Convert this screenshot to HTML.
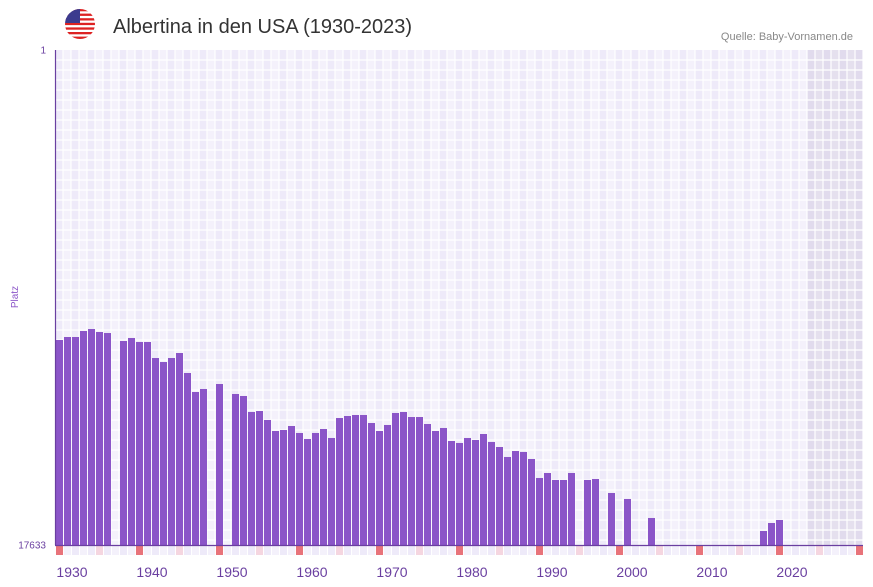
<!DOCTYPE html>
<html><head><meta charset="utf-8"><style>
body{margin:0;background:#fff;font-family:"Liberation Sans",sans-serif;}
svg{display:block}
</style></head><body>
<svg id="c" width="873" height="587">
<g>
<g>
<clipPath id="fc"><circle cx="80" cy="24" r="15"/></clipPath>
<g clip-path="url(#fc)">
<rect x="65" y="9" width="30" height="30" fill="#fff"/>
<rect x="65" y="9" width="30" height="2.3" fill="#d22"/><rect x="65" y="13.6" width="30" height="2.3" fill="#d22"/><rect x="65" y="18.2" width="30" height="2.3" fill="#d22"/><rect x="65" y="22.8" width="30" height="2.3" fill="#d22"/><rect x="65" y="27.4" width="30" height="2.3" fill="#d22"/><rect x="65" y="32" width="30" height="2.3" fill="#d22"/><rect x="65" y="36.6" width="30" height="2.4" fill="#d22"/>
<rect x="65" y="9" width="15" height="14" fill="#3c3b8e"/>
</g></g>
<text x="113" y="33" font-size="20" fill="#333">Albertina in den USA (1930-2023)</text>
<text x="853" y="40" font-size="11" fill="#888" text-anchor="end">Quelle: Baby-Vornamen.de</text>
</g>
<g id="bg"></g><g id="grid"></g><g id="bars"></g><g id="marks"></g><g id="axes"></g>
</svg>
<script>
const years=[1930,1931,1932,1933,1934,1935,1936,1938,1939,1940,1941,1942,1943,1944,1945,1946,1947,1948,1950,1952,1953,1954,1955,1956,1957,1958,1959,1960,1961,1962,1963,1964,1965,1966,1967,1968,1969,1970,1971,1972,1973,1974,1975,1976,1977,1978,1979,1980,1981,1982,1983,1984,1985,1986,1987,1988,1989,1990,1991,1992,1993,1994,1996,1997,1999,2001,2004,2018,2019,2020];
const ranks=[10331,10224,10224,10010,9939,10046,10082,10366,10259,10402,10402,10972,11115,10972,10794,11506,12183,12076,11898,12254,12325,12895,12860,13180,13572,13537,13394,13643,13857,13643,13501,13821,13109,13038,13002,13002,13287,13572,13358,12931,12895,13074,13074,13323,13572,13465,13928,13999,13821,13893,13679,13964,14142,14498,14285,14320,14569,15246,15068,15317,15317,15068,15317,15282,15780,15994,16671,17134,16849,16742];
const tickYears=[1930,1940,1950,1960,1970,1980,1990,2000,2010,2020];
const yTicks=[1,17633];
const NS="http://www.w3.org/2000/svg";
const X0=56,SLOT=8,Y0=50,Y1=545,Y0YEAR=1930,NSLOT=101;
const xs=y=>X0-1+(y-Y0YEAR)*SLOT;
const ys=r=>Y0+(r-1)/(17633-1)*(Y1-Y0);
function mk(p,t,a){const e=document.createElementNS(NS,t);for(const k in a)e.setAttribute(k,a[k]);document.getElementById(p).appendChild(e);return e;}
for(let i=0;i<NSLOT;i++){
 const e=mk('bg','rect',{x:X0-1+i*SLOT,y:Y0,width:SLOT,height:Y1-Y0,fill:(i%2?'#f4f1fb':'#eeeaf9')});
 
 
}
const sh=mk('bg','rect',{x:xs(2024),y:Y0,width:863-xs(2024),height:Y1-Y0,fill:'#c8c0d8','fill-opacity':0.35});


for(let i=0;i<=NSLOT;i++){mk('grid','line',{x1:X0-1+i*SLOT,x2:X0-1+i*SLOT,y1:Y0,y2:556,stroke:'#fff','stroke-width':1.2});}
for(let y=Y0+10;y<Y1;y+=10){mk('grid','line',{x1:X0,x2:863,y1:y,y2:y,stroke:'#fff','stroke-width':1.2});}
years.forEach((yr,i)=>{
 const t=ys(ranks[i]);
 const b=mk('bars','rect',{x:xs(yr)+1,y:t,width:7,height:Y1-t,fill:'#8b55c8'});
 
 
});
for(let i=0;i<NSLOT;i++){
 const yr=Y0YEAR+i;
 let f=i%2?'#f4f1fb':'#eeeaf9';
 if(yr%10===0)f='#e8737a';else if(yr%5===0)f='#f5d6e0';
 const m=mk('marks','rect',{x:xs(yr)+1,y:546,width:7,height:9,fill:f});
 
 
}
const ax=mk('axes','line',{x1:55.5,x2:55.5,y1:Y0,y2:Y1,stroke:'#6a3fa0','stroke-width':1.2});


const bx=mk('axes','line',{x1:55,x2:863,y1:Y1+0.5,y2:Y1+0.5,stroke:'#6a3fa0','stroke-width':1.2});


yTicks.forEach(r=>{
 const t=mk('axes','text',{x:46,y:ys(r)+3.5,'font-size':10,fill:'#6a3fa0','text-anchor':'end'});
 t.textContent=r;
 
 
});
tickYears.forEach(yr=>{
 const t=mk('axes','text',{x:xs(yr)+17,y:577,'font-size':14,fill:'#6a3fa0','text-anchor':'middle'});
 t.textContent=yr;
 
 
});
const yl=mk('axes','text',{x:0,y:0,'font-size':10,fill:'#8b55c8','text-anchor':'middle',transform:'translate(18,297) rotate(-90)'});
yl.textContent='Platz';


</script>
</body></html>
